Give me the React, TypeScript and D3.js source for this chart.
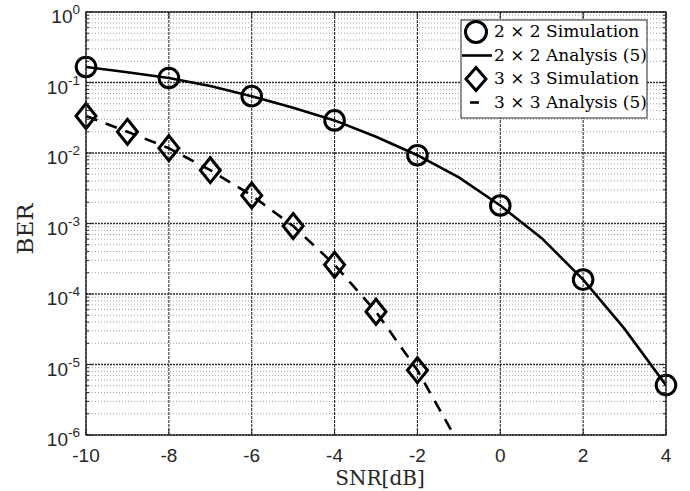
import React from "react";
import * as d3 from "d3";

const snr2Sim = [-10, -8, -6, -4, -2, 0, 2, 4];
const ber2Sim = [0.166, 0.116, 0.064, 0.029, 0.0093, 0.0018, 1.6e-4, 5.1e-6];
const snr2Ana = [-10, -9, -8, -7, -6, -5, -4, -3, -2, -1, 0, 1, 2, 3, 4];
const ber2Ana = [0.166, 0.14, 0.116, 0.089, 0.064, 0.044, 0.029, 0.017, 0.0093, 0.0045, 0.0018, 6.2e-4, 1.6e-4, 3.2e-5, 5.1e-6];
const snr3Sim = [-10, -9, -8, -7, -6, -5, -4, -3, -2];
const ber3Sim = [0.0335, 0.02, 0.0117, 0.0057, 0.0025, 9.2e-4, 2.6e-4, 5.6e-5, 8.3e-6];
const snr3Ana = [-10, -9, -8, -7, -6, -5, -4, -3, -2, -1];
const ber3Ana = [0.0335, 0.02, 0.0117, 0.0057, 0.0025, 9.2e-4, 2.6e-4, 5.6e-5, 8.3e-6, 7.5e-7];
const xTicks = [-10, -8, -6, -4, -2, 0, 2, 4];
const yExps = [0, -1, -2, -3, -4, -5, -6];
const legendLabels = ["2 × 2 Simulation", "2 × 2 Analysis (5)", "3 × 3 Simulation", "3 × 3 Analysis (5)"];

const W = 690, H = 491;
const L = 86, R = 666, T = 12, B = 435;

export default function App() {
  const x = d3.scaleLinear().domain([-10, 4]).range([L, R]);
  const y = d3.scaleLog().domain([1e-6, 1]).range([B, T]);
  const line = d3.line<[number, number]>().x(d => x(d[0])).y(d => y(d[1]));
  const zip = (a: number[], b: number[]) => a.map((v, i) => [v, b[i]] as [number, number]);

  const minorY: number[] = [];
  for (let e = -6; e < 0; e++) for (let k = 2; k <= 9; k++) minorY.push(k * Math.pow(10, e));

  const diamond = (cx: number, cy: number, hw = 10, hh = 12.5) =>
    `M${cx},${cy - hh}L${cx + hw},${cy}L${cx},${cy + hh}L${cx - hw},${cy}Z`;

  const tickFont = "'Liberation Sans', Arial, sans-serif";
  const serif = "'DejaVu Serif', serif";
  const lx = 461, ly = 20;

  return (
    <svg width={W} height={H} style={{ position: "absolute", left: 0, top: 0, background: "#fff" }}>
      <defs>
        <clipPath id="clip"><rect x={L} y={T} width={R - L} height={B - T} /></clipPath>
      </defs>
      {minorY.map((v, i) => (
        <line key={"mg" + i} x1={L} x2={R} y1={y(v)} y2={y(v)} stroke="#444" strokeOpacity={0.5} strokeWidth={1} strokeDasharray="1,2" />
      ))}
      {yExps.map(e => (
        <line key={"gy" + e} x1={L} x2={R} y1={y(Math.pow(10, e))} y2={y(Math.pow(10, e))} stroke="#1a1a1a" strokeWidth={1.6} strokeDasharray="2,1" strokeOpacity={0.9} />
      ))}
      {xTicks.map(t => (
        <line key={"gx" + t} x1={x(t)} x2={x(t)} y1={T} y2={B} stroke="#1a1a1a" strokeWidth={1.1} strokeDasharray="3,1" strokeOpacity={0.9} />
      ))}
      <g clipPath="url(#clip)">
        <path d={line(zip(snr2Ana, ber2Ana)) || ""} fill="none" stroke="#000" strokeWidth={2.6} />
        <path d={line(zip(snr3Ana, ber3Ana)) || ""} fill="none" stroke="#000" strokeWidth={2.6} strokeDasharray="12,9" />
      </g>
      {snr2Sim.map((s, i) => (
        <circle key={"c" + i} cx={x(s)} cy={y(ber2Sim[i])} r={9.8} fill="none" stroke="#000" strokeWidth={3} />
      ))}
      {snr3Sim.map((s, i) => (
        <path key={"d" + i} d={diamond(x(s), y(ber3Sim[i]))} fill="none" stroke="#000" strokeWidth={3} />
      ))}
      <rect x={L} y={T} width={R - L} height={B - T} fill="none" stroke="#262626" strokeWidth={1.3} />
      {xTicks.map(t => (
        <g key={"xt" + t}>
          <line x1={x(t)} x2={x(t)} y1={B} y2={B - 6} stroke="#262626" />
          <line x1={x(t)} x2={x(t)} y1={T} y2={T + 6} stroke="#262626" />
          <text x={x(t)} y={B + 27} textAnchor="middle" fontFamily={tickFont} fontSize={19} fill="#262626">{t}</text>
        </g>
      ))}
      {yExps.map(e => (
        <g key={"yt" + e}>
          <line x1={L} x2={L + 6} y1={y(Math.pow(10, e))} y2={y(Math.pow(10, e))} stroke="#262626" />
          <line x1={R} x2={R - 6} y1={y(Math.pow(10, e))} y2={y(Math.pow(10, e))} stroke="#262626" />
          <text x={L - 6} y={y(Math.pow(10, e)) + 11} textAnchor="end" fontFamily={tickFont} fontSize={19} fill="#262626">
            10<tspan dy={-9} fontSize={13.5}>{e}</tspan>
          </text>
        </g>
      ))}
      {minorY.map((v, i) => (
        <g key={"mt" + i}>
          <line x1={L} x2={L + 3} y1={y(v)} y2={y(v)} stroke="#262626" />
          <line x1={R} x2={R - 3} y1={y(v)} y2={y(v)} stroke="#262626" />
        </g>
      ))}
      <text x={380} y={485} textAnchor="middle" fontFamily={serif} fontSize={20} fill="#262626">SNR[dB]</text>
      <text transform={`translate(33,229) rotate(-90)`} textAnchor="middle" fontFamily={serif} fontSize={23} fill="#262626">BER</text>
      <rect x={lx} y={ly} width={186} height={98} fill="#fff" stroke="#262626" strokeWidth={1} />
      {legendLabels.map((lab, i) => {
        const base = 37 + i * 23.5;
        const cy = base - 5;
        return (
          <g key={"lg" + i}>
            {i === 0 && <circle cx={476} cy={cy} r={10.5} fill="none" stroke="#000" strokeWidth={3} />}
            {i === 1 && <line x1={462} x2={492} y1={cy} y2={cy} stroke="#000" strokeWidth={2.6} />}
            {i === 2 && <path d={diamond(476, cy, 10, 11.5)} fill="none" stroke="#000" strokeWidth={3} />}
            {i === 3 && <line x1={470} x2={479} y1={cy} y2={cy} stroke="#000" strokeWidth={2.6} />}
            <text x={494} y={base} fontFamily={serif} fontSize={17} fill="#000">{lab}</text>
          </g>
        );
      })}
    </svg>
  );
}
